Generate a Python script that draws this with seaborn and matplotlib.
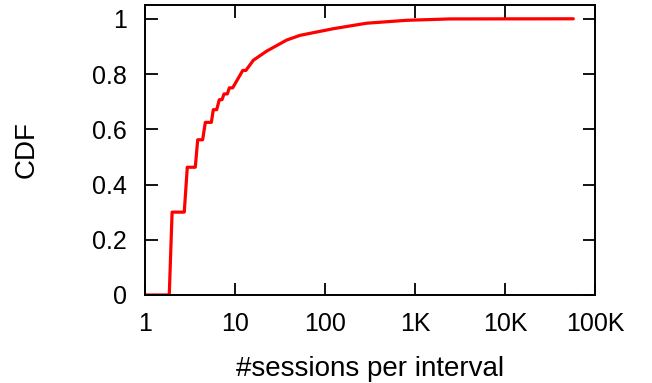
import matplotlib
matplotlib.use("Agg")
import matplotlib.pyplot as plt
import seaborn as sns
import pandas as pd
from matplotlib.ticker import FixedLocator, NullLocator

# CDF of sessions per interval
sessions = [1, 1.86, 2.0, 2.73, 2.95, 3.62, 3.85, 4.37, 4.68, 5.46, 5.74, 6.26,
            6.69, 7.17, 7.55, 8.22, 8.65, 9.42, 12.2, 13.2, 16.0, 22.5, 37.5,
            52.7, 123, 290, 807, 2450, 57400]
cdf = [0, 0, 0.30, 0.30, 0.4625, 0.4625, 0.562, 0.562, 0.625, 0.625, 0.671,
       0.671, 0.707, 0.707, 0.728, 0.728, 0.75, 0.75, 0.813, 0.813, 0.85,
       0.883, 0.923, 0.94, 0.964, 0.984, 0.9945, 0.9995, 1.0]

x_ticks = [1, 10, 100, 1000, 10000, 100000]
x_labels = ["1", "10", "100", "1K", "10K", "100K"]
y_ticks = [0, 0.2, 0.4, 0.6, 0.8, 1.0]
y_labels = ["0", "0.2", "0.4", "0.6", "0.8", "1"]

sns.set_style("ticks")
plt.rcParams["font.family"] = ["Liberation Sans", "DejaVu Sans"]
plt.rcParams["text.color"] = "black"
plt.rcParams["axes.labelcolor"] = "black"

df = pd.DataFrame({"sessions": sessions, "cdf": cdf})

fig = plt.figure(figsize=(6.52, 3.83), dpi=100)
ax = fig.add_axes([0.2224, 0.2298, 0.6902, 0.7572])
sns.lineplot(data=df, x="sessions", y="cdf", sort=False, color="#ff0000",
             linewidth=2.3, ax=ax)
ax.set_xscale("log")
ax.set_xlim(1, 100000)
ax.set_ylim(0, 1.05)
ax.xaxis.set_major_locator(FixedLocator(x_ticks))
ax.xaxis.set_minor_locator(NullLocator())
ax.set_xticklabels(x_labels)
ax.set_yticks(y_ticks)
ax.set_yticklabels(y_labels)
ax.tick_params(direction="in", length=9, width=1.3, labelsize=18,
               top=True, right=True, colors="black")
ax.tick_params(axis="y", pad=13)
ax.tick_params(axis="x", pad=12)
for sp in ax.spines.values():
    sp.set_visible(True)
    sp.set_linewidth(1.4)
    sp.set_color("black")
ax.set_xlabel("#sessions per interval", fontsize=20, labelpad=15)
ax.set_ylabel("CDF", fontsize=20, labelpad=38)

fig.savefig("out.png", dpi=100)
